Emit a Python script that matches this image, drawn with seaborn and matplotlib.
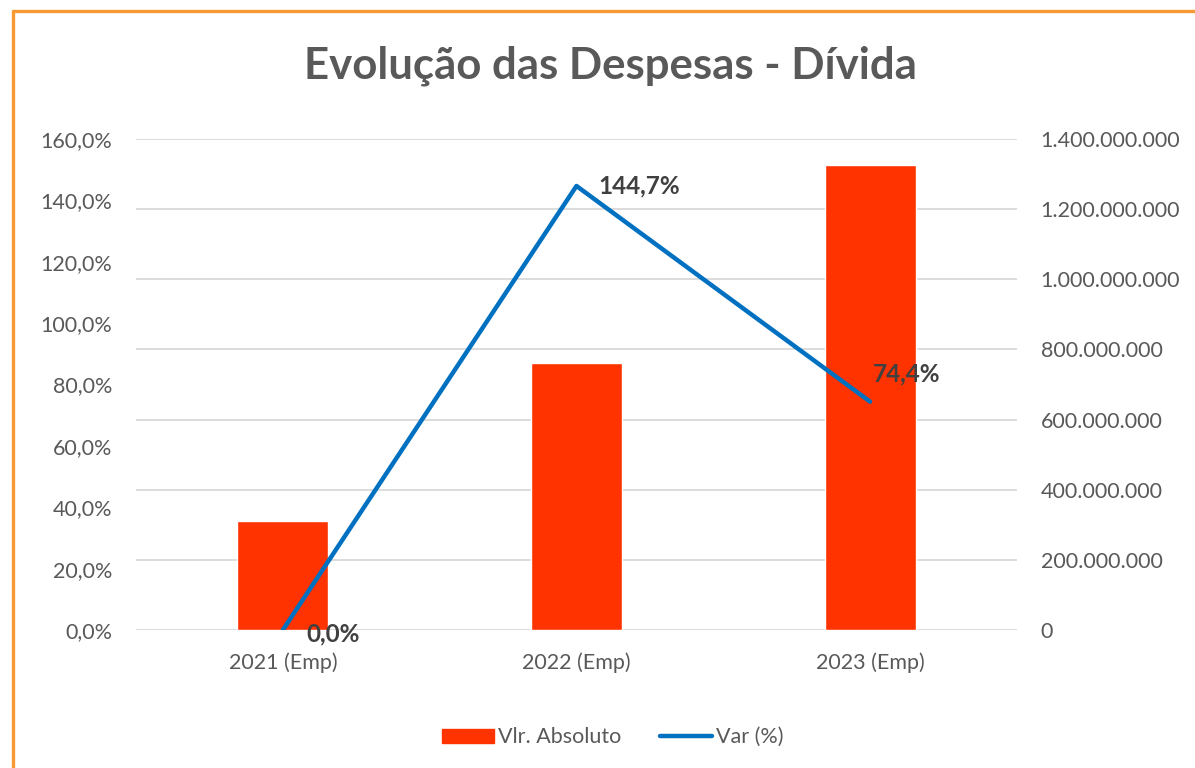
import matplotlib
matplotlib.use("Agg")
import matplotlib.pyplot as plt
from matplotlib.ticker import FuncFormatter, MultipleLocator
from matplotlib.lines import Line2D
from matplotlib.patches import Patch
import seaborn as sns
import pandas as pd

categories = ["2021 (Emp)", "2022 (Emp)", "2023 (Emp)"]
vlr_absoluto = [311_000_000, 761_000_000, 1_327_000_000]
var_pct = [0.0, 144.7, 74.4]
var_labels = ["0,0%", "144,7%", "74,4%"]
title = "Evolução das Despesas - Dívida"

BAR = "#FF3300"
LINE = "#0070C0"
TXT = "#595959"
LBL = "#404040"
GRID = "#D9D9D9"

sns.set_theme(style="white")
plt.rcParams["font.family"] = ["Lato", "DejaVu Sans"]

fig = plt.figure(figsize=(11.95, 7.68), dpi=100)
ax = fig.add_axes([0.1138, 0.1797, 0.7372, 0.6393])

df = pd.DataFrame({"cat": categories, "val": vlr_absoluto})
sns.barplot(data=df, x="cat", y="val", ax=ax, color=BAR, width=0.31,
            saturation=1, zorder=2)
ax.set_ylim(0, 1_400_000_000)
ax.yaxis.set_major_locator(MultipleLocator(200_000_000))
ax.yaxis.set_major_formatter(FuncFormatter(lambda v, p: f"{int(round(v)):,}".replace(",", ".")))
ax.grid(axis="y", color=GRID, linewidth=1.3, zorder=0)
ax.set_axisbelow(True)
ax.set_xlabel("")
ax.set_ylabel("")
ax.set_xlim(-0.5, 2.5)

ax2 = ax.twinx()
ldf = pd.DataFrame({"x": [0, 1, 2], "v": var_pct})
sns.lineplot(data=ldf, x="x", y="v", ax=ax2, color=LINE, linewidth=3.2,
             legend=False)
ax2.set_ylim(0, 160)
ax2.yaxis.set_major_locator(MultipleLocator(20))
ax2.yaxis.set_major_formatter(FuncFormatter(lambda v, p: f"{v:.1f}".replace(".", ",") + "%"))
ax2.set_xlabel("")
ax2.set_ylabel("")
ax2.set_xlim(-0.5, 2.5)

# swap sides: bars' axis on the right, percentage axis on the left
ax.yaxis.tick_right()
ax2.yaxis.tick_left()

offsets = [(17, -3), (16, 0), (2, 20)]
for i, (v, lab) in enumerate(zip(var_pct, var_labels)):
    ax2.annotate(lab, (i, v), xytext=offsets[i], textcoords="offset points",
                 ha="left", va="center", fontsize=17.5, fontweight="bold",
                 color=LBL)

for a in (ax, ax2):
    for s in a.spines.values():
        s.set_visible(False)
    a.tick_params(length=0, labelsize=15.5, colors=TXT)
ax.tick_params(axis="x", pad=16)
ax.tick_params(axis="y", pad=17)
ax2.tick_params(axis="y", pad=17)
ax.set_xticks([0, 1, 2])
ax.set_xticklabels(categories)

fig.text(0.511, 0.915, title, ha="center", va="center", fontsize=31.5,
         fontweight="bold", color=TXT)

handles = [Patch(facecolor=BAR, edgecolor=BAR),
           Line2D([0], [0], color=LINE, linewidth=3.2)]
fig.legend(handles, ["Vlr. Absoluto", "Var (%)"], loc="center",
           bbox_to_anchor=(0.513, 0.040), ncol=2, frameon=False,
           fontsize=15.5, labelcolor=TXT, handlelength=2.4, handleheight=0.6,
           columnspacing=1.8, handletextpad=0.2)

# orange chart border (top and left visible)
border = "#F79A33"
fig.add_artist(Line2D([0.0105, 1.0], [0.9857, 0.9857], color=border,
                      linewidth=2.4, transform=fig.transFigure))
fig.add_artist(Line2D([0.0105, 0.0105], [0.0, 0.9857], color=border,
                      linewidth=2.4, transform=fig.transFigure))

fig.savefig("out.png", dpi=100, facecolor="white")
